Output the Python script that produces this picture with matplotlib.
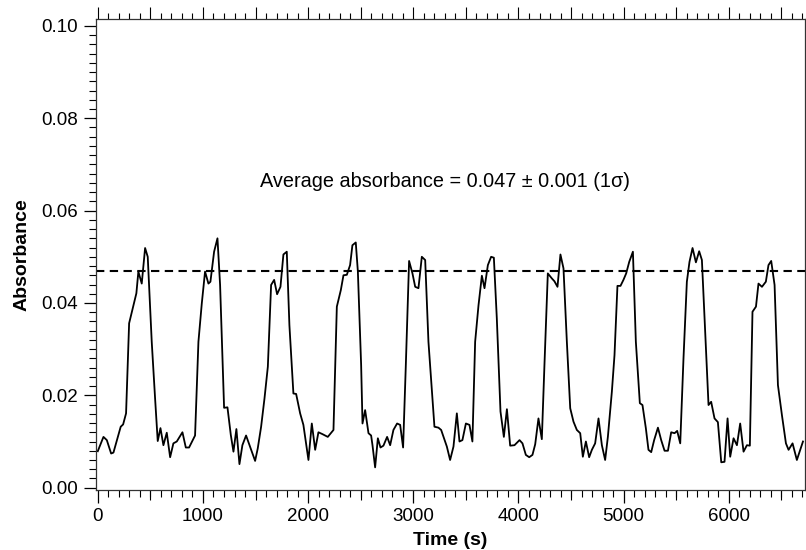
import matplotlib

matplotlib.use("Agg")

import matplotlib.pyplot as plt
import numpy as np
from matplotlib.ticker import MultipleLocator, NullFormatter

plt.rcParams["font.family"] = ["Liberation Sans", "DejaVu Sans"]

# time (s) and absorbance
time_s = [
    0, 54, 86, 127, 149, 196, 218, 241, 269, 298, 329, 367, 386, 418, 450, 475,
    513, 545, 570, 596, 624, 656, 688, 719, 751, 805, 837, 868, 925, 957, 989,
    1020, 1052, 1071, 1106, 1138, 1163, 1201, 1233, 1265, 1290, 1318, 1347,
    1375, 1410, 1448, 1496, 1521, 1553, 1585, 1617, 1648, 1677, 1705, 1737,
    1765, 1797, 1822, 1860, 1886, 1924, 1955, 2003, 2035, 2067, 2098, 2136,
    2187, 2241, 2273, 2311, 2336, 2368, 2399, 2421, 2453, 2473, 2504, 2517,
    2542, 2574, 2599, 2612, 2637, 2663, 2688, 2716, 2751, 2780, 2811, 2846,
    2875, 2903, 2929, 2960, 2992, 3018, 3049, 3081, 3113, 3144, 3201, 3239,
    3265, 3319, 3350, 3382, 3414, 3439, 3467, 3500, 3534, 3562, 3588, 3620,
    3652, 3677, 3709, 3740, 3766, 3794, 3829, 3861, 3890, 3921, 3962, 4010,
    4038, 4070, 4102, 4133, 4159, 4190, 4222, 4247, 4279, 4318, 4342, 4371,
    4399, 4428, 4460, 4492, 4523, 4555, 4587, 4612, 4641, 4672, 4698, 4729,
    4761, 4793, 4824, 4850, 4888, 4913, 4941, 4970, 4998, 5024, 5053, 5088,
    5116, 5154, 5179, 5211, 5236, 5262, 5290, 5326, 5357, 5389, 5421, 5452,
    5484, 5509, 5538, 5569, 5601, 5626, 5655, 5687, 5718, 5744, 5775, 5807,
    5832, 5864, 5896, 5928, 5959, 5988, 6013, 6045, 6077, 6108, 6140, 6172,
    6200, 6225, 6258, 6282, 6315, 6352, 6377, 6403, 6435, 6467, 6505, 6543,
    6568, 6606, 6647, 6705,
]
absorbance_milli = [
    7.9, 11.0, 10.3, 7.4, 7.6, 11.4, 13.2, 13.7, 16.1, 35.6, 38.5, 42.1, 46.8,
    44.2, 51.9, 50.0, 31.6, 19.3, 10.1, 12.9, 9.2, 11.9, 6.6, 9.6, 10.0, 12.0,
    8.7, 8.7, 11.3, 31.6, 39.9, 46.8, 44.2, 44.6, 51.1, 54.0, 43.9, 17.3, 17.4,
    11.4, 7.8, 12.7, 5.1, 9.2, 11.3, 8.9, 5.8, 8.5, 13.2, 19.3, 26.2, 43.9,
    45.0, 41.9, 43.5, 50.5, 51.1, 35.2, 20.4, 20.3, 16.1, 13.6, 6.0, 13.9, 8.2,
    12.0, 11.6, 11.0, 12.5, 39.2, 42.8, 46.0, 46.1, 48.2, 52.5, 53.1, 46.8,
    26.6, 13.9, 16.8, 11.8, 11.3, 9.2, 4.4, 10.7, 8.7, 9.1, 11.0, 9.2, 12.5,
    13.9, 13.6, 8.7, 26.6, 49.1, 46.4, 43.5, 43.2, 50.0, 49.3, 31.6, 13.2,
    13.0, 12.5, 8.9, 6.0, 8.9, 16.1, 10.0, 10.3, 13.9, 13.6, 10.0, 31.6, 39.5,
    45.9, 43.2, 48.2, 50.0, 49.8, 36.7, 16.5, 11.0, 17.0, 9.1, 9.2, 10.3, 9.6,
    7.1, 6.6, 7.1, 9.4, 15.0, 10.5, 26.6, 46.4, 45.3, 44.7, 43.5, 50.5, 47.5,
    31.6, 17.2, 14.3, 12.5, 11.8, 6.7, 10.0, 6.6, 8.2, 9.6, 15.0, 9.2, 6.0,
    11.0, 20.8, 28.7, 43.7, 43.7, 45.0, 46.4, 48.9, 51.1, 31.6, 18.3, 17.9,
    12.9, 8.2, 7.7, 10.3, 13.0, 10.3, 8.0, 8.0, 12.0, 11.8, 12.3, 9.6, 28.0,
    44.6, 48.9, 51.9, 48.8, 51.2, 49.3, 33.8, 17.9, 18.6, 15.0, 14.2, 5.5, 5.6,
    15.0, 6.7, 10.7, 9.2, 13.9, 7.8, 9.2, 9.1, 38.1, 39.2, 44.2, 43.5, 44.6,
    48.2, 49.1, 43.9, 22.2, 15.7, 9.6, 8.2, 9.6, 6.0, 10.0,
]
average_absorbance = 0.047
annotation = "Average absorbance = 0.047 \u00b1 0.001 (1\u03c3)"


def style_axes(ax) -> None:
    ax.set_xlim(-20, 6720)
    ax.set_ylim(-0.0005, 0.1015)

    ax.xaxis.set_major_locator(MultipleLocator(1000))
    ax.xaxis.set_minor_locator(MultipleLocator(100))
    ax.yaxis.set_major_locator(MultipleLocator(0.02))
    ax.yaxis.set_minor_locator(MultipleLocator(0.002))
    ax.yaxis.set_major_formatter(lambda v, pos: f"{v:.2f}")

    ax.tick_params(axis="both", which="major", direction="out", length=9,
                   width=0.9, labelsize=13.5, colors="black")
    ax.tick_params(axis="both", which="minor", direction="out", length=5, width=0.8)
    ax.tick_params(axis="x", which="major", pad=4)
    ax.tick_params(top=False, right=False, which="both")

    for spine in ax.spines.values():
        spine.set_linewidth(0.9)
        spine.set_color("#333333")

    # medium ticks every 500 s on the bottom axis
    mid = ax.secondary_xaxis("bottom")
    mid.set_xticks(np.arange(500, 6720, 1000))
    mid.xaxis.set_major_formatter(NullFormatter())
    mid.tick_params(which="major", direction="out", length=7, width=0.8)
    mid.spines["bottom"].set_visible(False)

    # top axis: unlabelled ticks
    top = ax.secondary_xaxis("top")
    top.xaxis.set_major_locator(MultipleLocator(500))
    top.xaxis.set_minor_locator(MultipleLocator(100))
    top.xaxis.set_major_formatter(NullFormatter())
    top.tick_params(which="major", direction="out", length=9, width=0.8)
    top.tick_params(which="minor", direction="out", length=4, width=0.8)
    top.spines["top"].set_visible(False)


def main() -> None:
    t = np.asarray(time_s, dtype=float)
    a = np.asarray(absorbance_milli, dtype=float) / 1000.0

    fig = plt.figure(figsize=(8.06, 5.5), dpi=100)
    ax = fig.add_axes([0.1187, 0.1091, 0.8795, 0.8564])

    ax.plot(t, a, color="black", linewidth=1.3)
    ax.axhline(average_absorbance, color="black", linestyle=(0, (4, 2.6)), linewidth=1.5)
    ax.text(3303, 0.0662, annotation, ha="center", va="center", fontsize=14.3)

    style_axes(ax)
    ax.set_xlabel("Time (s)", fontsize=14, fontweight="bold", labelpad=5)
    ax.set_ylabel("Absorbance", fontsize=14, fontweight="bold", labelpad=8)

    fig.savefig("out.png", dpi=100)
    plt.close(fig)


if __name__ == "__main__":
    main()
